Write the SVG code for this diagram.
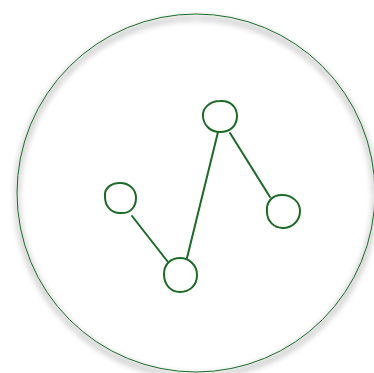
<svg xmlns="http://www.w3.org/2000/svg" width="374" height="373" viewBox="0 0 374 373">
<defs>
<filter id="sh" x="-10%" y="-10%" width="120%" height="120%">
<feMorphology in="SourceAlpha" operator="dilate" radius="1" result="d"/>
<feGaussianBlur in="d" stdDeviation="3"/>
<feOffset dy="4" result="b"/>
<feComponentTransfer><feFuncA type="linear" slope="0.35"/></feComponentTransfer>
<feMerge><feMergeNode/><feMergeNode in="SourceGraphic"/></feMerge>
</filter>
<style>
.node{fill:none;stroke:#1b6b27;stroke-width:2;stroke-linecap:round}
.edge{fill:none;stroke:#1b6b27;stroke-width:2;stroke-linecap:round}
</style>
</defs>
<rect width="374" height="373" fill="#fff"/>
<circle cx="196" cy="193" r="179" fill="none" stroke="#1b6b27" stroke-width="1" filter="url(#sh)"/>
<g id="connectors">
<line class="edge" x1="132" y1="216" x2="168" y2="262"/>
<line class="edge" x1="187" y1="258" x2="218" y2="132"/>
<line class="edge" x1="230" y1="133" x2="270" y2="197"/>
</g>
<g id="n1"><path class="node" d="M105 197 C104 188 111 183 120 183 C129 183 136 189 136 198 C136 208 129 214 120 213 C111 213 105 206 105 197 Z"/></g>
<g id="n2"><path class="node" d="M164 274 C164 264 171 258 180 258 C189 258 197 265 197 275 C197 286 189 292 180 292 C171 292 164 285 164 274 Z"/></g>
<g id="n3"><path class="node" d="M203 117 C202 108 210 101 220 101 C230 100 237 107 237 116 C237 126 230 132 220 132 C211 132 204 126 203 117 Z"/></g>
<g id="n4"><path class="node" d="M267 212 C266 202 272 195 282 195 C292 195 300 202 300 211 C300 221 292 228 283 228 C274 228 267 221 267 212 Z"/></g>
</svg>
